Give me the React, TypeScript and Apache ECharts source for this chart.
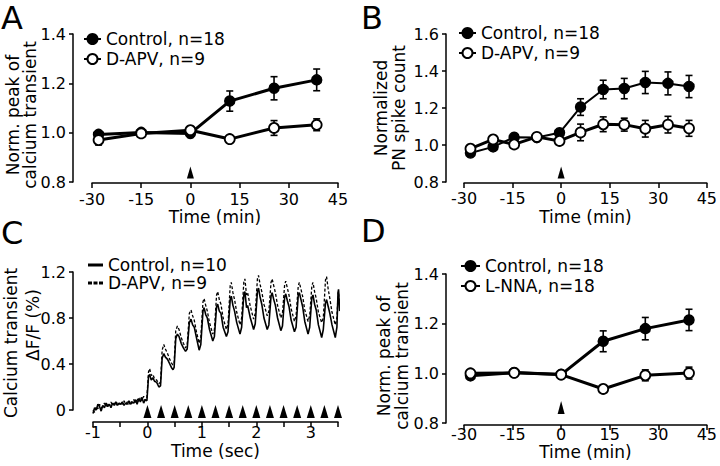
import React, { useEffect, useRef } from "react";
import * as echarts from "echarts";

const FONT = "DejaVu Sans";

// ---- Panel A ----
const aTime = [-28, -15, 0, 12, 25.5, 38.5];
const aControl = [0.993, 1.001, 0.997, 1.128, 1.18, 1.214];
const aControlErr = [0.008, 0.006, 0.006, 0.041, 0.047, 0.044];
const aApv = [0.97, 0.997, 1.01, 0.974, 1.019, 1.032];
const aApvErr = [0.02, 0.006, 0.006, 0.014, 0.03, 0.024];
const aArrow = [[0, 0.839]];

// ---- Panel B ----
const bTime = [-28, -21, -14.5, -7.5, -0.5, 6, 13, 19.5, 26, 33, 39.5];
const bControl = [0.957, 0.99, 1.042, 1.04, 1.066, 1.205, 1.3, 1.305, 1.338, 1.333, 1.316];
const bControlErr = [0.008, 0.008, 0.008, 0.008, 0.01, 0.045, 0.05, 0.055, 0.06, 0.062, 0.06];
const bApv = [0.98, 1.03, 1.003, 1.044, 1.022, 1.068, 1.112, 1.11, 1.088, 1.11, 1.09];
const bApvErr = [0.01, 0.008, 0.01, 0.008, 0.01, 0.045, 0.04, 0.035, 0.045, 0.045, 0.043];
const bArrow = [[0, 0.851]];

// ---- Panel C ----
const cTime = [
  -1.0, -0.97, -0.94, -0.91, -0.88, -0.85, -0.82, -0.79, -0.76, -0.73,
  -0.7, -0.67, -0.64, -0.61, -0.58, -0.55, -0.52, -0.49, -0.46, -0.43,
  -0.4, -0.37, -0.34, -0.31, -0.28, -0.25, -0.22, -0.19, -0.16, -0.13,
  -0.1, -0.07, -0.04, -0.01,
  0.02, 0.04, 0.07, 0.1, 0.13, 0.17, 0.21, 0.24,
  0.27, 0.3, 0.33, 0.37, 0.41, 0.44, 0.47, 0.49,
  0.52, 0.55, 0.58, 0.62, 0.66, 0.7, 0.73,
  0.77, 0.8, 0.83, 0.86, 0.9, 0.95, 0.98,
  1.02, 1.04, 1.07, 1.1, 1.14, 1.2, 1.23,
  1.27, 1.29, 1.32, 1.35, 1.39, 1.45, 1.48,
  1.52, 1.54, 1.57, 1.6, 1.64, 1.7, 1.73,
  1.77, 1.79, 1.82, 1.84, 1.89, 1.95, 1.98,
  2.02, 2.04, 2.07, 2.1, 2.14, 2.2, 2.23,
  2.27, 2.29, 2.32, 2.35, 2.39, 2.45, 2.48,
  2.52, 2.54, 2.57, 2.6, 2.64, 2.7, 2.73,
  2.77, 2.79, 2.82, 2.85, 2.89, 2.95, 2.98,
  3.02, 3.04, 3.07, 3.1, 3.14, 3.2, 3.23,
  3.27, 3.29, 3.32, 3.35, 3.39, 3.45, 3.48,
  3.5, 3.51, 3.53,
];
const cControl = [
  -0.03, 0.02, 0.0, 0.05, 0.03, -0.01, 0.04, 0.02, 0.06, 0.03,
  0.05, 0.02, 0.06, 0.04, 0.07, 0.04, 0.06, 0.05, 0.07, 0.04,
  0.06, 0.05, 0.08, 0.05, 0.07, 0.06, 0.09, 0.05, 0.1, 0.07,
  0.11, 0.06, 0.09, 0.08,
  0.29, 0.31, 0.26, 0.28, 0.25, 0.24, 0.2, 0.21,
  0.45, 0.49, 0.46, 0.44, 0.4, 0.37, 0.35, 0.37,
  0.62, 0.66, 0.64, 0.58, 0.54, 0.51, 0.53,
  0.76, 0.79, 0.74, 0.72, 0.63, 0.52, 0.57,
  0.86, 0.89, 0.83, 0.8, 0.7, 0.6, 0.64,
  0.9, 0.92, 0.86, 0.84, 0.72, 0.64, 0.68,
  0.96, 0.99, 0.91, 0.86, 0.76, 0.66, 0.72,
  1.0, 1.03, 0.89, 0.91, 0.8, 0.7, 0.75,
  1.03, 1.06, 0.98, 0.92, 0.8, 0.7, 0.74,
  0.99, 1.02, 0.96, 0.91, 0.8, 0.69, 0.73,
  0.98, 1.01, 0.95, 0.9, 0.78, 0.68, 0.72,
  1.0, 1.02, 0.96, 0.9, 0.77, 0.66, 0.72,
  0.98, 1.0, 0.92, 0.87, 0.74, 0.63, 0.7,
  0.93, 0.96, 0.9, 0.84, 0.74, 0.63, 0.72,
  1.02, 1.05, 0.86,
];
const cApv = [
  0.0, -0.02, 0.03, 0.01, 0.05, 0.02, 0.03, 0.06, 0.03, 0.06,
  0.04, 0.07, 0.04, 0.06, 0.04, 0.07, 0.05, 0.07, 0.05, 0.08,
  0.05, 0.07, 0.05, 0.08, 0.06, 0.09, 0.06, 0.1, 0.07, 0.11,
  0.08, 0.12, 0.08, 0.11,
  0.33, 0.36, 0.3, 0.31, 0.27, 0.26, 0.23, 0.24,
  0.52, 0.57, 0.53, 0.49, 0.44, 0.41, 0.39, 0.41,
  0.69, 0.73, 0.7, 0.63, 0.58, 0.54, 0.57,
  0.84, 0.87, 0.82, 0.78, 0.68, 0.58, 0.63,
  0.94, 0.97, 0.91, 0.86, 0.76, 0.66, 0.7,
  1.0, 1.03, 0.96, 0.92, 0.8, 0.7, 0.75,
  1.08, 1.11, 1.02, 0.96, 0.85, 0.74, 0.8,
  1.11, 1.14, 1.0, 1.02, 0.9, 0.79, 0.84,
  1.14, 1.17, 1.09, 1.03, 0.92, 0.82, 0.86,
  1.11, 1.14, 1.08, 1.02, 0.91, 0.8, 0.84,
  1.09, 1.12, 1.06, 1.0, 0.88, 0.77, 0.82,
  1.08, 1.11, 1.05, 0.99, 0.87, 0.77, 0.82,
  1.08, 1.11, 1.03, 0.97, 0.85, 0.76, 0.8,
  1.13, 1.16, 1.05, 0.97, 0.85, 0.74, 0.8,
  1.0, 1.03, 0.88,
];
const cStim = [0, 0.25, 0.5, 0.75, 1, 1.25, 1.5, 1.75, 2, 2.25, 2.5, 2.75, 3, 3.25, 3.5];
const cStimLevel = -0.012;

// ---- Panel D ----
const dTime = [-28, -14.5, 0, 13, 26, 39.5];
const dControl = [0.99, 1.003, 0.995, 1.129, 1.18, 1.215];
const dControlErr = [0.008, 0.006, 0.006, 0.042, 0.045, 0.043];
const dLnna = [1.0, 1.002, 0.995, 0.937, 0.992, 1.001];
const dLnnaErr = [0.01, 0.006, 0.006, 0.008, 0.022, 0.024];
const dArrow = [[0, 0.862]];

const zip = (xs: number[], ys: number[]) => xs.map((x, i) => [x, ys[i]]);
const zip3 = (xs: number[], ys: number[], es: number[]) => xs.map((x, i) => [x, ys[i], es[i]]);

function markerLine(name: string, idx: number, xs: number[], ys: number[], filled: boolean, lw: number) {
  return {
    type: "line",
    name,
    xAxisIndex: idx,
    yAxisIndex: idx,
    data: zip(xs, ys),
    symbol: "circle",
    symbolSize: 10,
    showSymbol: true,
    clip: false,
    z: filled ? 3 : 4,
    lineStyle: { color: "#000", width: lw },
    itemStyle: filled
      ? { color: "#000", borderColor: "#000", borderWidth: 1.5 }
      : { color: "#fff", borderColor: "#000", borderWidth: 1.8 },
    emphasis: { disabled: true },
  };
}

function errSeries(idx: number, xs: number[], ys: number[], es: number[]) {
  return {
    type: "custom",
    xAxisIndex: idx,
    yAxisIndex: idx,
    data: zip3(xs, ys, es),
    encode: { x: 0, y: 1 },
    z: 2,
    silent: true,
    clip: false,
    renderItem: (_p: any, api: any) => {
      const x = api.value(0);
      const y = api.value(1);
      const e = api.value(2);
      const t = api.coord([x, y + e]);
      const b = api.coord([x, y - e]);
      const c = 3.5;
      const st = { stroke: "#000", lineWidth: 1.6 };
      return {
        type: "group",
        children: [
          { type: "line", shape: { x1: t[0], y1: t[1], x2: b[0], y2: b[1] }, style: st },
          { type: "line", shape: { x1: t[0] - c, y1: t[1], x2: t[0] + c, y2: t[1] }, style: st },
          { type: "line", shape: { x1: b[0] - c, y1: b[1], x2: b[0] + c, y2: b[1] }, style: st },
        ],
      };
    },
  };
}

function arrowSeries(idx: number, data: number[][], size: number[]) {
  return {
    type: "scatter",
    xAxisIndex: idx,
    yAxisIndex: idx,
    data,
    symbol: "triangle",
    symbolSize: size,
    itemStyle: { color: "#000", opacity: 1 },
    silent: true,
    clip: false,
    z: 5,
  };
}

const axisLineStyle = { color: "#000", width: 1.5 };

function xAxis(idx: number, min: number, max: number, interval: number, offset: number, margin: number, name: string, gap: number, fmt?: (v: number) => string) {
  return {
    type: "value",
    gridIndex: idx,
    min,
    max,
    interval,
    offset,
    name,
    nameLocation: "middle",
    nameGap: gap,
    nameTextStyle: { fontSize: 17, color: "#000", fontFamily: FONT, lineHeight: 15 },
    axisLine: { onZero: false, lineStyle: axisLineStyle },
    axisTick: { show: true, length: 5, lineStyle: axisLineStyle },
    axisLabel: { fontSize: 16, color: "#000", margin, fontFamily: FONT, lineHeight: 14, formatter: fmt },
    splitLine: { show: false },
  };
}

function yAxis(idx: number, min: number, max: number, interval: number, offset: number, fmt: (v: number) => string) {
  return {
    type: "value",
    gridIndex: idx,
    min,
    max,
    interval,
    offset,
    axisLine: { show: true, onZero: false, lineStyle: axisLineStyle },
    axisTick: { show: true, length: 4, lineStyle: axisLineStyle },
    axisLabel: { fontSize: 16, color: "#000", margin: 7, fontFamily: FONT, formatter: fmt },
    splitLine: { show: false },
  };
}

const fmt1 = (v: number) => v.toFixed(1);
const fmtC = (v: number) => (Math.abs(v) < 1e-9 ? "0" : v.toFixed(1));
const fmtInt = (v: number) => (Math.abs(v - Math.round(v)) < 1e-9 ? String(Math.round(v)) : "");

const legendFmt = (n: string) => n.split("|")[1];

function legend(left: number, top: number, iw: number, ih: number, lh: number, data: any[]) {
  return {
    left,
    top,
    orient: "vertical",
    itemWidth: iw,
    itemHeight: ih,
    itemGap: 0,
    padding: 0,
    selectedMode: false,
    formatter: legendFmt,
    textStyle: { fontSize: 17, color: "#000", fontFamily: FONT, lineHeight: lh },
    data,
  };
}

function vText(text: string, x: number, y: number) {
  return {
    type: "text",
    x,
    y,
    rotation: Math.PI / 2,
    style: { text, fontSize: 17, fontFamily: FONT, fill: "#000", textAlign: "center", textVerticalAlign: "middle" },
  };
}

function letter(text: string, x: number, y: number) {
  return {
    type: "text",
    x,
    y,
    style: { text, fontSize: 32, lineHeight: 28, fontFamily: FONT, fill: "#000", textAlign: "left", textVerticalAlign: "middle" },
  };
}

const solidIcon = "path://M0,0h15v3h-15z";
const dashIcon = "path://M0,0h4v3h-4z M5.5,0h4v3h-4z M11,0h4v3h-4z";

const option: any = {
  animation: false,
  backgroundColor: "#fff",
  textStyle: { fontFamily: FONT },
  grid: [
    { left: 92, top: 34, width: 246, height: 148 },
    { left: 464, top: 34, width: 244, height: 148 },
    { left: 93, top: 272, width: 245, height: 138 },
    { left: 464, top: 274, width: 244, height: 149 },
  ],
  xAxis: [
    xAxis(0, -30, 45, 15, 1, 9, "Time (min)", 26),
    xAxis(1, -30, 45, 15, 1, 8.5, "Time (min)", 26),
    xAxis(2, -1, 3.5, 0.5, 12, 3, "Time (sec)", 21, fmtInt),
    xAxis(3, -30, 45, 15, 2, 2.5, "Time (min)", 19.5),
  ],
  yAxis: [
    yAxis(0, 0.8, 1.4, 0.2, 19, fmt1),
    yAxis(1, 0.8, 1.6, 0.2, 18, fmt1),
    yAxis(2, 0, 1.2, 0.4, 20, fmtC),
    yAxis(3, 0.8, 1.4, 0.2, 18, fmt1),
  ],
  legend: [
    legend(83, 29, 17, 12.5, 20, [{ name: "A|Control, n=18" }, { name: "A|D-APV, n=9" }]),
    legend(458, 23, 17, 12.5, 20, [{ name: "B|Control, n=18" }, { name: "B|D-APV, n=9" }]),
    legend(88, 256, 15, 3, 18, [
      { name: "C|Control, n=10", icon: solidIcon, itemStyle: { color: "#000" } },
      { name: "C|D-APV, n=9", icon: dashIcon, itemStyle: { color: "#000" } },
    ]),
    legend(460, 256, 19, 12.5, 20, [{ name: "D|Control, n=18" }, { name: "D|L-NNA, n=18" }]),
  ],
  graphic: [
    letter("A", 1, 18),
    letter("B", 361, 18),
    letter("C", 1, 233),
    letter("D", 361, 231),
    vText("Norm. peak of", 12.5, 115),
    vText("calcium transient", 29.5, 115),
    vText("Normalized", 380.5, 108),
    vText("PN spike count", 398.5, 108),
    vText("Calcium transient", 11, 343),
    vText("ΔF/F (%)", 33, 325),
    vText("Norm. peak of", 384, 356),
    vText("calcium transient", 402, 356),
  ],
  series: [
    // A
    errSeries(0, aTime, aControl, aControlErr),
    errSeries(0, aTime, aApv, aApvErr),
    markerLine("A|Control, n=18", 0, aTime, aControl, true, 3),
    markerLine("A|D-APV, n=9", 0, aTime, aApv, false, 3),
    arrowSeries(0, aArrow, [7, 12]),
    // B
    errSeries(1, bTime, bControl, bControlErr),
    errSeries(1, bTime, bApv, bApvErr),
    markerLine("B|Control, n=18", 1, bTime, bControl, true, 2),
    markerLine("B|D-APV, n=9", 1, bTime, bApv, false, 3),
    arrowSeries(1, bArrow, [7, 12]),
    // C
    {
      type: "line",
      name: "C|Control, n=10",
      xAxisIndex: 2,
      yAxisIndex: 2,
      data: zip(cTime, cControl),
      symbol: "none",
      clip: false,
      lineStyle: { color: "#000", width: 1.6 },
      itemStyle: { color: "#000" },
      z: 3,
    },
    {
      type: "line",
      name: "C|D-APV, n=9",
      xAxisIndex: 2,
      yAxisIndex: 2,
      data: zip(cTime, cApv),
      symbol: "none",
      clip: false,
      lineStyle: { color: "#000", width: 1.3, type: [3, 2] },
      itemStyle: { color: "#000" },
      z: 3,
    },
    arrowSeries(2, cStim.map((t) => [t, cStimLevel]), [8, 13]),
    // D
    errSeries(3, dTime, dControl, dControlErr),
    errSeries(3, dTime, dLnna, dLnnaErr),
    markerLine("D|Control, n=18", 3, dTime, dControl, true, 3),
    markerLine("D|L-NNA, n=18", 3, dTime, dLnna, false, 3),
    arrowSeries(3, dArrow, [7, 13]),
  ],
};

export default function App() {
  const ref = useRef<HTMLDivElement>(null);
  useEffect(() => {
    const chart = echarts.init(ref.current as HTMLDivElement, undefined, { renderer: "svg" });
    chart.setOption(option);
    return () => chart.dispose();
  }, []);
  return (
    <div
      ref={ref}
      style={{ position: "absolute", left: 0, top: 0, width: 720, height: 466, background: "#fff" }}
    />
  );
}
